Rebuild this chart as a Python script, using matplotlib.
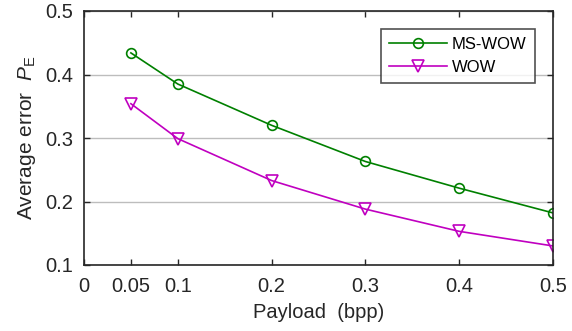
import matplotlib
matplotlib.use('Agg')
import matplotlib.pyplot as plt

payload = [0.05, 0.1, 0.2, 0.3, 0.4, 0.5]
ms_wow = [0.434, 0.385, 0.320, 0.263, 0.221, 0.182]
wow = [0.354, 0.299, 0.233, 0.188, 0.153, 0.130]
xticks = [0, 0.05, 0.1, 0.2, 0.3, 0.4, 0.5]
xtick_labels = ['0', '0.05', '0.1', '0.2', '0.3', '0.4', '0.5']
yticks = [0.1, 0.2, 0.3, 0.4, 0.5]

plt.rcParams['font.family'] = ['Liberation Sans', 'DejaVu Sans']
plt.rcParams['mathtext.fontset'] = 'custom'
plt.rcParams['mathtext.rm'] = 'Liberation Sans'
plt.rcParams['mathtext.it'] = 'Liberation Sans:italic'

fig = plt.figure(figsize=(5.72, 3.31), dpi=100)
ax = fig.add_axes([84 / 572, 1 - 265 / 331, (553 - 84) / 572, (265 - 11) / 331])

ax.plot(payload, ms_wow, color='#008000', marker='o', markersize=7,
        markerfacecolor='none', markeredgewidth=1.2, linewidth=1.2, label='MS-WOW')
ax.plot(payload, wow, color='#c000c0', marker='v', markersize=8,
        markerfacecolor='none', markeredgewidth=1.2, linewidth=1.2, label='WOW')

ax.set_xlim(0, 0.5)
ax.set_ylim(0.1, 0.5)
ax.set_xticks(xticks)
ax.set_xticklabels(xtick_labels)
ax.set_yticks(yticks)
ax.set_yticklabels(['0.1', '0.2', '0.3', '0.4', '0.5'])
ax.yaxis.grid(True, color='#bdbdbd', linewidth=1)
ax.set_axisbelow(True)
ax.tick_params(direction='in', top=True, right=True, length=4, width=1,
               labelsize=14.5, colors='#262626')
ax.tick_params(axis='x', pad=9)
ax.tick_params(axis='y', pad=8)
for s in ax.spines.values():
    s.set_color('#262626')
    s.set_linewidth(1.2)

ax.set_xlabel('Payload  (bpp)', fontsize=14.5, color='#262626', labelpad=5)
ax.set_ylabel(r'Average error  $P_{\mathrm{E}}$', fontsize=15, color='#262626', labelpad=5)

leg = ax.legend(loc='upper right', bbox_to_anchor=(0.961, 0.93), fontsize=12,
                frameon=True, fancybox=False, edgecolor='#262626', handlelength=3.5,
                borderpad=0.5, labelspacing=0.45, handletextpad=0.25, borderaxespad=0)
leg.get_frame().set_linewidth(1.2)

fig.savefig('out.png', dpi=100)
